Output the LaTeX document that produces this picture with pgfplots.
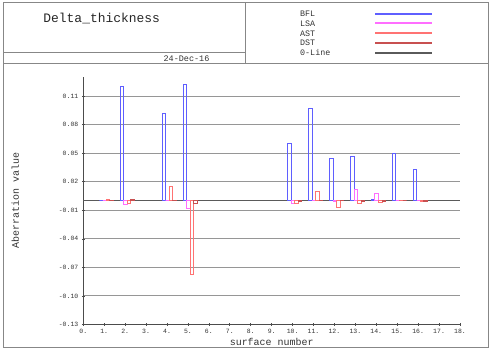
\documentclass[border=0pt]{standalone}
\usepackage{fontspec}
\setmainfont{Liberation Mono}
\setmonofont{Liberation Mono}
\usepackage{pgfplots}
\pgfplotsset{compat=1.18}
\usepackage{pgfplotstable}
\definecolor{bflc}{RGB}{95,95,255}
\definecolor{lsac}{RGB}{255,110,255}
\definecolor{astc}{RGB}{255,115,115}
\definecolor{dstc}{RGB}{200,80,80}
\definecolor{zeroc}{RGB}{90,90,90}
\definecolor{framec}{RGB}{135,135,135}
\definecolor{gridc}{RGB}{150,150,150}

\pgfplotstableread{
n v
1 0
2 0.1204
4 0.0921
5 0.1218
10 0.0599
11 0.0970
12 0.0441
13 0.0469
14 0.0008
15 0.0500
16 0.0330
}\tbfl
\pgfplotstableread{
n v
1 0
2 -0.0038
4 0
5 -0.0080
10 -0.0024
11 0.0003
12 -0.0005
13 0.0123
14 0.0074
15 0
16 0
}\tlsa
\pgfplotstableread{
n v
1 0.0010
2 -0.0025
4 0.0147
5 -0.0780
10 -0.0030
11 0.0102
12 -0.0069
13 -0.0030
14 -0.0017
15 0
16 -0.0005
}\tast
\pgfplotstableread{
n v
1 0.0003
2 0.0008
4 0.0005
5 -0.0027
10 -0.0010
11 0.0005
12 0.0003
13 -0.0010
14 -0.0008
15 0
16 -0.0005
}\tdst

\begin{document}
\begin{tikzpicture}
\path[use as bounding box] (0,0) rectangle (491bp,353bp);
% frame
\draw[framec, line width=1bp] (3bp,5bp) rectangle (488bp,350bp);
\draw[framec, line width=1bp] (3bp,289bp) -- (488bp,289bp);
\draw[framec, line width=1bp] (245.7bp,289bp) -- (245.7bp,350bp);
\draw[framec, line width=1bp] (3bp,300.7bp) -- (245.7bp,300.7bp);
% header texts
\node[font=\fontsize{13}{14}\selectfont, text=black!85] at (101.7bp,334bp) {Delta\_thickness};
\node[font=\fontsize{8.5}{9}\selectfont, text=black!80] at (186.5bp,294bp) {24-Dec-16};
% legend
\node[font=\fontsize{8.4}{9}\selectfont, anchor=west, inner sep=0pt, text=black!80] at (300bp,338.8bp) {BFL};
\node[font=\fontsize{8.4}{9}\selectfont, anchor=west, inner sep=0pt, text=black!80] at (300bp,329.2bp) {LSA};
\node[font=\fontsize{8.4}{9}\selectfont, anchor=west, inner sep=0pt, text=black!80] at (300bp,319.6bp) {AST};
\node[font=\fontsize{8.4}{9}\selectfont, anchor=west, inner sep=0pt, text=black!80] at (300bp,310.0bp) {DST};
\node[font=\fontsize{8.4}{9}\selectfont, anchor=west, inner sep=0pt, text=black!80] at (300bp,300.0bp) {0-Line};
\draw[draw=bflc, line width=2bp] (375bp,339bp) -- (432bp,339bp);
\draw[draw=lsac, line width=2bp] (375bp,330bp) -- (432bp,330bp);
\draw[draw=astc, line width=2bp] (375bp,320bp) -- (432bp,320bp);
\draw[draw=dstc, line width=2bp] (375bp,310bp) -- (432bp,310bp);
\draw[draw=zeroc, line width=2bp] (375bp,300bp) -- (432bp,300bp);
\begin{axis}[
  at={(83.3bp,28.5bp)}, anchor=south west,
  scale only axis, width=376.7bp, height=247.5bp,
  xmin=0, xmax=18, ymin=-0.13, ymax=0.13,
  axis lines*=left,
  axis line style={black!70, line width=0.8bp},
  xtick={0,...,18},
  xticklabels={0.,1.,2.,3.,4.,5.,6.,7.,8.,9.,10.,11.,12.,13.,14.,15.,16.,17.,18.},
  ytick={-0.13,-0.10,-0.07,-0.04,-0.01,0.02,0.05,0.08,0.11},
  yticklabels={-0.13,-0.10,-0.07,-0.04,-0.01,0.02,0.05,0.08,0.11},
  tick align=center, major tick length=3bp,
  tick style={black!70, line width=0.6bp},
  ticklabel style={font=\fontsize{6.5}{7}\selectfont, text=black!80},
  ymajorgrids, grid style={gridc, line width=0.9bp},
  xlabel={surface number}, ylabel={Aberration value},
  label style={font=\fontsize{10}{11}\selectfont, text=black!80},
  xlabel style={at={(axis description cs:0.5,-0.0707)}, anchor=center},
  ylabel style={at={(axis description cs:-0.1805,0.5)}, anchor=center},
  clip=false,
]
\addplot[zeroc, line width=1bp, forget plot] coordinates {(0,0) (18,0)};
\addplot[ybar, bar width=0.17, bar shift=-0.15, draw=bflc, fill=none, line width=1bp] table[x=n,y=v] {\tbfl};
\addplot[ybar, bar width=0.17, bar shift=0.02, draw=lsac, fill=none, line width=1bp] table[x=n,y=v] {\tlsa};
\addplot[ybar, bar width=0.17, bar shift=0.19, draw=astc, fill=none, line width=1bp] table[x=n,y=v] {\tast};
\addplot[ybar, bar width=0.17, bar shift=0.36, draw=dstc, fill=none, line width=1bp] table[x=n,y=v] {\tdst};
\end{axis}
\end{tikzpicture}
\end{document}
